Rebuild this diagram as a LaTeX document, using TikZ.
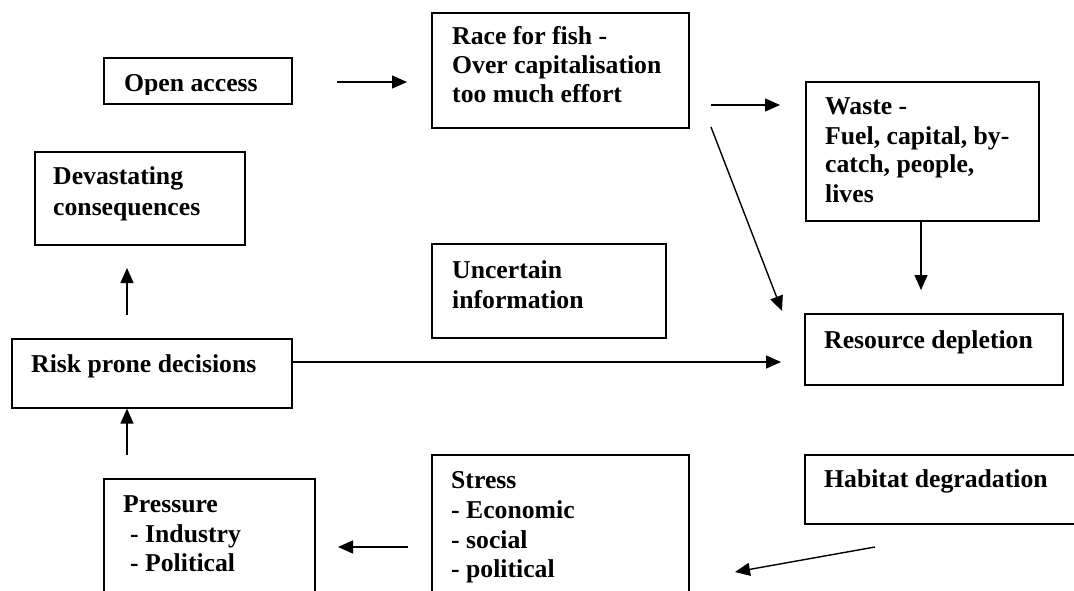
\documentclass[tikz,border=0pt]{standalone}
\usepackage{fontspec}
\setmainfont{Liberation Serif}
\usetikzlibrary{arrows.meta}
\begin{document}
\begin{tikzpicture}[x=1pt,y=-1pt,
  box/.style={draw, line width=1.6pt, inner sep=0pt, anchor=north west},
  lbl/.style={anchor=base west, inner sep=0pt, font=\fontsize{25.7pt}{29.5pt}\selectfont\bfseries},
  arr/.style={line width=1.4pt, -{Triangle[length=15pt,width=13pt]}}]
\useasboundingbox (0,0) rectangle (1074,591);
\clip (0,0) rectangle (1074,591);

% boxes
\node[box, minimum width=188pt, minimum height=46pt]  (open)    at (103,57)  {};
\node[box, minimum width=257pt, minimum height=115pt] (race)    at (431,12)  {};
\node[box, minimum width=233pt, minimum height=139pt] (waste)   at (805,81)  {};
\node[box, minimum width=210pt, minimum height=93pt]  (dev)     at (34,151)  {};
\node[box, minimum width=234pt, minimum height=94pt]  (unc)     at (431,243) {};
\node[box, minimum width=280pt, minimum height=69pt]  (risk)    at (11,338)  {};
\node[box, minimum width=258pt, minimum height=71pt]  (res)     at (804,313) {};
\node[box, minimum width=211pt, minimum height=142pt] (press)   at (103,478) {};
\node[box, minimum width=257pt, minimum height=166pt] (stress)  at (431,454) {};
\node[box, minimum width=286pt, minimum height=69pt]  (habitat) at (804,454) {};

% labels
\begin{scope}
  \clip (103,57) rectangle (291,95);
  \node[lbl] (openT) at (124,92) {Open access};
\end{scope}

\node[lbl] (raceT1) at (452,45)  {Race for fish -};
\node[lbl] (raceT2) at (452,74)  {Over capitalisation};
\node[lbl] (raceT3) at (452,103) {too much effort};

\node[lbl] (wasteT1) at (825,115) {Waste -};
\node[lbl] (wasteT2) at (825,145) {Fuel, capital, by-};
\node[lbl] (wasteT3) at (825,173) {catch, people,};
\node[lbl] (wasteT4) at (825,203) {lives};

\node[lbl] (devT1) at (53,185) {Devastating};
\node[lbl] (devT2) at (53,215) {consequences};

\node[lbl] (uncT1) at (452,278) {Uncertain};
\node[lbl] (uncT2) at (452,308) {information};

\node[lbl] (riskT) at (31,372) {Risk prone decisions};

\node[lbl] (resT) at (824,348) {Resource depletion};

\node[lbl] (pressT1) at (123,512) {Pressure};
\node[lbl] (pressT2) at (130,542) {- Industry};
\node[lbl] (pressT3) at (130,571) {- Political};

\node[lbl] (stressT1) at (451,488) {Stress};
\node[lbl] (stressT2) at (451,518) {- Economic};
\node[lbl] (stressT3) at (451,548) {- social};
\node[lbl] (stressT4) at (451,577) {- political};

\node[lbl] (habitatT) at (824,487) {Habitat degradation};

% free ends of the connectors
\coordinate (oaS) at (337,82);  \coordinate (oaE) at (407,82);
\coordinate (rwS) at (711,105); \coordinate (rwE) at (780,105);
\coordinate (rdS) at (711,127); \coordinate (rdE) at (782,311);
\coordinate (wdE) at (921,290);
\coordinate (rrE) at (781,362);
\coordinate (cdS) at (127,315); \coordinate (cdE) at (127,268);
\coordinate (prS) at (127,455);
\coordinate (spS) at (408,547); \coordinate (spE) at (338,547);
\coordinate (hsS) at (875,547); \coordinate (hsE) at (735,572);

% connectors
\draw[arr] (oaS) -- (oaE);
\draw[arr] (rwS) -- (rwE);
\draw[arr] (rdS) -- (rdE);
\draw[arr] (waste.south -| wdE) -- (wdE);
\draw[arr] (risk.east |- rrE) -- (rrE);
\draw[arr] (cdS) -- (cdE);
\draw[arr] (prS) -- (risk.south -| prS);
\draw[arr] (spS) -- (spE);
\draw[arr] (hsS) -- (hsE);
\end{tikzpicture}
\end{document}
